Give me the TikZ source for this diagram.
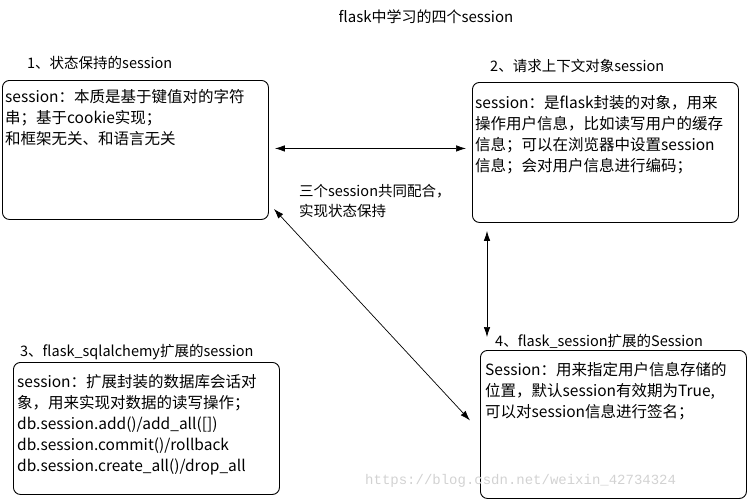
\documentclass[tikz,border=0pt]{standalone}
\usepackage{fontspec}
\setmainfont{Noto Sans CJK SC}
\newfontfamily\wmfont{Liberation Mono}
\usetikzlibrary{arrows.meta,positioning}
\tikzset{
	sbox/.style={draw, line width=0.9pt, rounded corners=7pt, inner sep=0pt, minimum width=266pt},
	stext/.style={anchor=north west, inner sep=0pt, align=left, font=\fontsize{15.5}{21}\selectfont},
	slabel/.style={anchor=west, inner sep=0pt, font=\fontsize{14.5}{18}\selectfont},
	link/.style={<->, line width=0.7pt}
}

\begin{document}
\begin{tikzpicture}[x=1pt,y=-1pt,>={Latex[length=10pt,width=6.5pt]}]
			\useasboundingbox (0,0) rectangle (747,501);
			% title
			\node[font=\fontsize{15}{18}\selectfont] (title) at (426,17) {flask中学习的四个session};

			% the four sessions
			\node[sbox, minimum height=139pt, anchor=north west] (state) at (2,80) {};
			\node[sbox, minimum height=140pt, anchor=north west] (context) at (472,82) {};
			\node[sbox, minimum height=132pt, anchor=north west] (alchemy) at (13,362) {};
			\node[sbox, minimum height=148pt, anchor=north west] (flasksess) at (480,350) {};

			\node[slabel] (lab1) at ([shift={(25,-17)}]state.north west) {1、状态保持的session};
			\node[slabel] (lab2) at ([shift={(18,-16)}]context.north west) {2、请求上下文对象session};
			\node[slabel] (lab3) at ([shift={(7,-10)}]alchemy.north west) {3、flask\_sqlalchemy扩展的session};
			\node[slabel] (lab4) at ([shift={(15,-9)}]flasksess.north west) {4、flask\_session扩展的Session};

			\node[stext] (txt1) at ([shift={(3,9)}]state.north west) {session：本质是基于键值对的字符\\串；基于cookie实现；\\和框架无关、和语言无关};
			\node[stext] (txt2) at ([shift={(3,13)}]context.north west) {session：是flask封装的对象，用来\\操作用户信息，比如读写用户的缓存\\信息；可以在浏览器中设置session\\信息；会对用户信息进行编码；};
			\node[stext] (txt3) at ([shift={(4,12)}]alchemy.north west) {session：扩展封装的数据库会话对\\象，用来实现对数据的读写操作；\\db.session.add()/add\_all([])\\db.session.commit()/rollback\\db.session.create\_all()/drop\_all};
			\node[stext] (txt4) at ([shift={(5,12)}]flasksess.north west) {Session：用来指定用户信息存储的\\位置，默认session有效期为True,\\可以对session信息进行签名；};

			% connections
			\draw[link, shorten <=6pt, shorten >=6pt] ([shift={(0,-1.5)}]state.east) -- ([shift={(0,-1.5)}]state.east -| context.west);
			\draw[link] ([shift={(5,-11)}]state.south east) -- ([shift={(-10,-4)}]flasksess.west);
			\draw[link] ([shift={(15,8)}]context.south west) -- ([shift={(7,-13)}]flasksess.north west);
			\node[slabel, align=left, font=\fontsize{14.5}{20}\selectfont] (note) at ([shift={(30,51)}]state.east) {三个session共同配合，\\实现状态保持};

			% watermark
			\node[anchor=west, inner sep=0pt, text=gray!35, font=\wmfont\fontsize{14}{16}\selectfont] (mark) at (365,481) {https://blog.csdn.net/weixin\_42734324};
		\end{tikzpicture}
\end{document}
